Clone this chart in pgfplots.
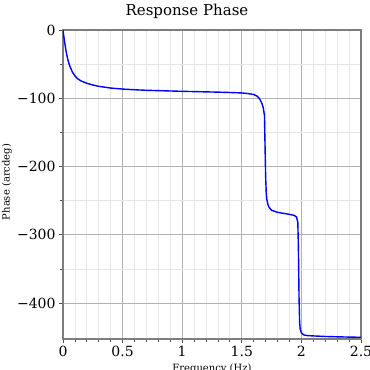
\documentclass[border=0pt]{standalone}
\usepackage{pgfplots}
\pgfplotsset{compat=1.18}
\usepackage{fontspec}
\setmainfont{DejaVu Serif}
\definecolor{framegray}{RGB}{125,125,125}
\definecolor{majgrid}{RGB}{178,178,178}
\definecolor{mingrid}{RGB}{230,230,230}
\begin{document}
\begin{tikzpicture}
\begin{axis}[
  at={(63bp,31bp)}, anchor=south west,
  scale only axis, width=298bp, height=309bp,
  xmin=0, xmax=2.5, ymin=-452.5, ymax=0,
  xtick={0,0.5,1,1.5,2,2.5},
  xticklabels={0,0.5,1,1.5,2,2.5},
  ytick={-400,-300,-200,-100,0},
  yticklabels={−400,−300,−200,−100,0},
  minor x tick num=4, minor y tick num=1,
  grid=both,
  major grid style={draw=majgrid, line width=0.8bp},
  minor grid style={draw=mingrid, line width=0.8bp},
  axis line style={draw=framegray, line width=2.5bp},
  tick pos=left, tick align=outside,
  major tick length=4bp, minor tick length=3bp,
  tick style={draw=black!70, line width=0.8bp},
  ticklabel style={font=\fontsize{14bp}{16bp}\selectfont},
  /pgf/number format/assume math mode=true,
  title={Response Phase},
  title style={at={(rel axis cs:0.416,1)}, anchor=base, yshift=9bp, font=\fontsize{15bp}{17bp}\selectfont},
  xlabel={Frequency (Hz)},
  xlabel style={at={(rel axis cs:0.5,0)}, anchor=north, yshift=-21bp, font=\fontsize{10bp}{12bp}\selectfont},
  ylabel={Phase (arcdeg)},
  ylabel style={at={(rel axis cs:0,0.508)}, anchor=center, yshift=56bp, font=\fontsize{10bp}{12bp}\selectfont},
]
\addplot[blue, line width=1.4bp] coordinates {
(0,0) (0.005,-7) (0.01,-13) (0.02,-25) (0.03,-35) (0.04,-43) (0.05,-49) (0.06,-54)
(0.08,-62) (0.10,-67) (0.12,-71) (0.15,-74.5) (0.2,-78) (0.25,-80.5) (0.3,-82.5)
(0.4,-85) (0.5,-86.5) (0.6,-87.5) (0.7,-88.3) (0.8,-88.8) (0.9,-89.3) (1.0,-89.8)
(1.1,-90.2) (1.2,-90.6) (1.3,-91) (1.4,-91.5) (1.5,-92.2) (1.55,-93) (1.6,-94.5)
(1.63,-97) (1.65,-101) (1.67,-108) (1.68,-114) (1.69,-125) (1.695,-170) (1.70,-215)
(1.705,-238) (1.71,-248) (1.72,-256) (1.73,-260) (1.75,-264) (1.8,-267) (1.85,-268.5)
(1.9,-270) (1.94,-271.5) (1.96,-274) (1.97,-282) (1.975,-320) (1.98,-390) (1.985,-428)
(1.99,-438) (2.0,-443.5) (2.02,-446.5) (2.05,-447.5) (2.1,-448) (2.2,-448.8)
(2.3,-449.3) (2.4,-449.7) (2.5,-450)
};
\end{axis}
\pgfresetboundingbox
\path[use as bounding box] (0,0) rectangle (370bp,370bp);
\end{tikzpicture}
\end{document}
